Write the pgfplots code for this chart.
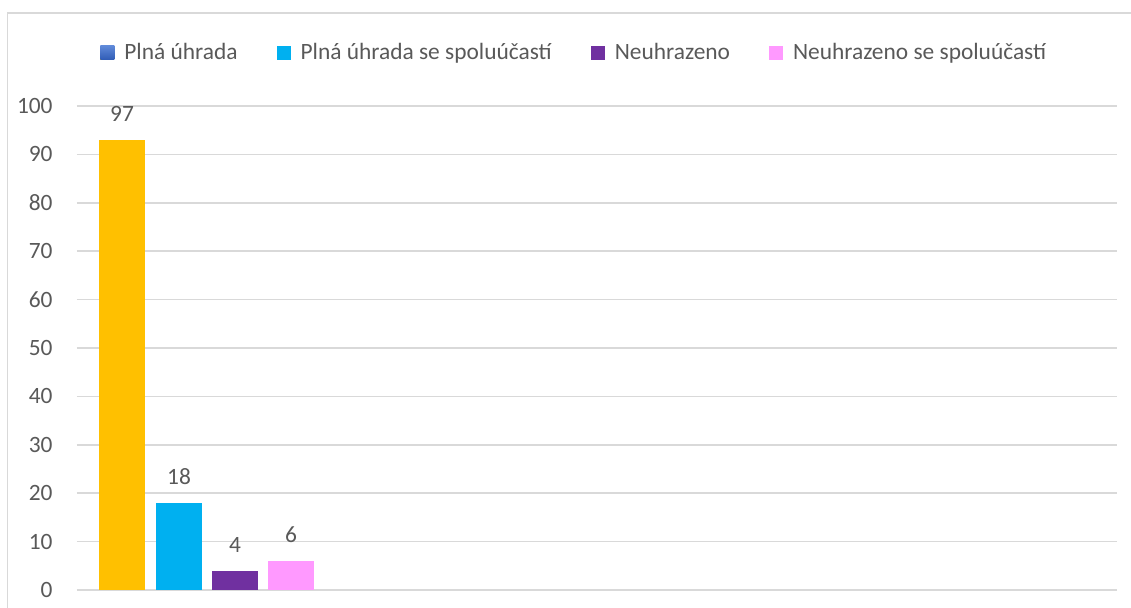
\documentclass[border=0pt]{standalone}
\usepackage{fontspec}
\setmainfont{Carlito}
\usepackage{pgfplots}
\pgfplotsset{compat=1.18}
\usetikzlibrary{calc}
\definecolor{cOrange}{HTML}{FFC000}
\definecolor{cCyan}{HTML}{00B0F0}
\definecolor{cPurple}{HTML}{7030A0}
\definecolor{cPink}{HTML}{FF99FF}
\definecolor{cBlueTop}{HTML}{5E88D8}
\definecolor{cBlueBot}{HTML}{2F5BB5}
\definecolor{gridgray}{HTML}{D9D9D9}
\definecolor{txtgray}{HTML}{595959}

\begin{document}
\fontsize{11.7}{14}\selectfont
\begin{tikzpicture}
\begin{axis}[
    name=ax,
    scale only axis, width=520pt, height=242pt,
    xmin=0, xmax=1040, ymin=0, ymax=100,
    axis line style={draw=none},
    xtick=\empty, ytick={0,10,...,100},
    major tick length=0pt, tick style={draw=none},
    ymajorgrids, grid style={gridgray, line width=0.75pt},
    /pgf/number format/assume math mode=true,
    yticklabel style={anchor=east, inner sep=0pt, xshift=-12pt, text=txtgray, font=\fontsize{11.7}{14}\selectfont},
    ybar, bar width=46, bar shift=0pt,
    nodes near coords, point meta=explicit symbolic,
    every node near coord/.append style={text=txtgray, yshift=5pt, font=\fontsize{11.7}{14}\selectfont},
    legend columns=4,
    legend style={draw=none, fill=none, inner sep=0pt,
        at={(0.0221,1.1095)}, anchor=west,
        font=\fontsize{11.7}{14}\selectfont, text=txtgray,
        /tikz/every even column/.append style={column sep=17.5pt},
        /tikz/every odd column/.append style={column sep=3pt}},
]
\addplot[fill=cOrange, draw=none,
    legend image code/.code={\shade[top color=cBlueTop, bottom color=cBlueBot] (0pt,-3.5pt) rectangle (7pt,3.5pt);}]
    coordinates {(45,93) [97]};
\addlegendentry{Plná úhrada}
\addplot[fill=cCyan, draw=none,
    legend image code/.code={\fill[cCyan] (0pt,-3.5pt) rectangle (7pt,3.5pt);}]
    coordinates {(102,18) [18]};
\addlegendentry{Plná úhrada se spoluúčastí}
\addplot[fill=cPurple, draw=none,
    legend image code/.code={\fill[cPurple] (0pt,-3.5pt) rectangle (7pt,3.5pt);}]
    coordinates {(158,4) [4]};
\addlegendentry{Neuhrazeno}
\addplot[fill=cPink, draw=none,
    legend image code/.code={\fill[cPink] (0pt,-3.5pt) rectangle (7pt,3.5pt);}]
    coordinates {(214,6) [6]};
\addlegendentry{Neuhrazeno se spoluúčastí}
\end{axis}
\draw[gridgray, line width=0.75pt] ($(ax.south west)+(-34.75pt,-40pt)$) |- ($(ax.north east)+(40pt,46.5pt)$);
\pgfresetboundingbox
\path[use as bounding box] ($(ax.south west)+(-38.5pt,-9pt)$) rectangle ($(ax.north east)+(7pt,53pt)$);
\end{tikzpicture}
\end{document}
